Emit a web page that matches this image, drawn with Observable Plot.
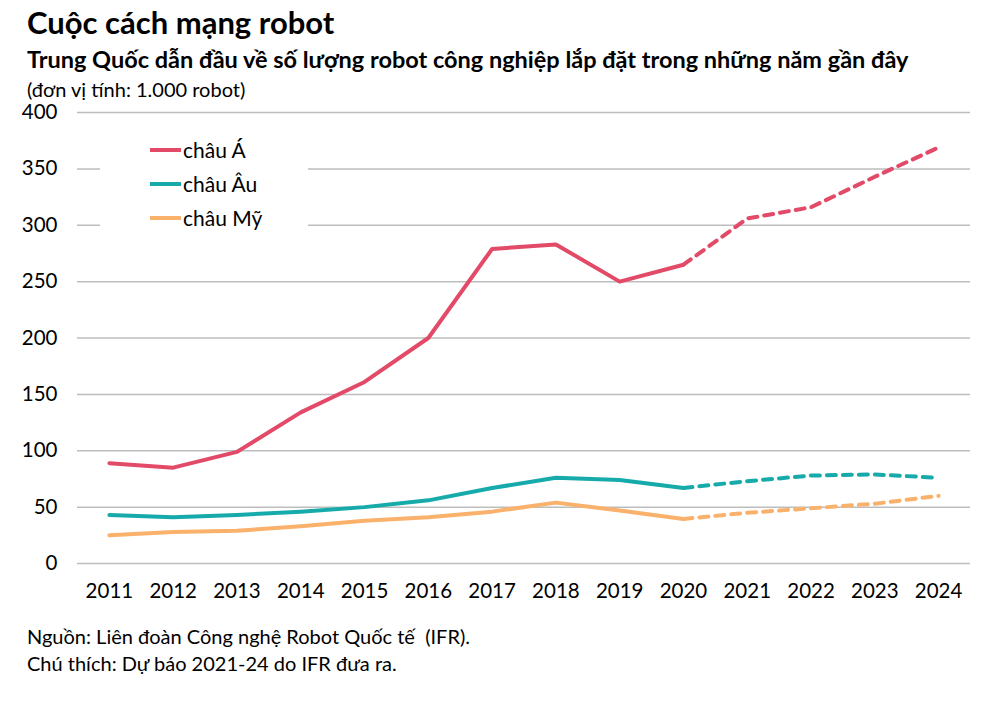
<!DOCTYPE html>
<html><head><meta charset="utf-8">
<script src="https://cdn.jsdelivr.net/npm/d3@7"></script>
<script src="https://cdn.jsdelivr.net/npm/@observablehq/plot@0.6"></script>
<style>
body{margin:0;background:#fff;font-family:Lato,"Open Sans",sans-serif;color:#000;}
#wrap{position:relative;width:997px;height:703px;}
.t{position:absolute;left:27px;white-space:nowrap;line-height:1;}
#title{top:7px;font-size:31px;font-weight:bold;}
#sub{top:48px;font-size:23.5px;font-weight:bold;}
#unit{top:79px;font-size:20px;}
#chart{position:absolute;left:0;top:88px;}
#legend{position:absolute;left:100px;top:137px;width:208px;height:95px;background:#fff;}
.li{position:absolute;left:50px;font-size:21px;line-height:1;display:flex;align-items:center;}
.li span.sw{display:inline-block;width:31px;height:4px;margin-right:2px;}
#src{top:626px;font-size:20px;}
#note{top:653px;font-size:20px;}
</style></head>
<body><div id="wrap">
<div class="t" id="title">Cuộc cách mạng robot</div>
<div class="t" id="sub">Trung Quốc dẫn đầu về số lượng robot công nghiệp lắp đặt trong những năm gần đây</div>
<div class="t" id="unit">(đơn vị tính: 1.000 robot)</div>
<div id="chart"></div>
<div id="legend"></div>
<div class="t" id="src">Nguồn: Liên đoàn Công nghệ Robot Quốc tế&nbsp; (IFR).</div>
<div class="t" id="note">Chú thích: Dự báo 2021-24 do IFR đưa ra.</div>
</div>
<script>
const years = [2011,2012,2013,2014,2015,2016,2017,2018,2019,2020,2021,2022,2023,2024];
const asia    = [89,85,99,134,161,200,279,283,250,265,306,316,343,369];
const europe  = [43,41,43,46,50,56,67,76,74,67,73,78,79,76];
const america = [25,28,29,33,38,41,46,54,47,39.5,45,49,53,60];
const seriesNames = ["châu Á","châu Âu","châu Mỹ"];
const seriesColors = ["#e24a68","#17aaaa","#f9b16c"];
const lastActual = 2020;
const yTicks = [0,50,100,150,200,250,300,350,400];

const rows = [];
[asia,europe,america].forEach((vals,i)=>{
  vals.forEach((v,j)=>rows.push({year:String(years[j]),y:years[j],value:v,series:seriesNames[i]}));
});
const solid = rows.filter(d=>d.y<=lastActual);
const dashed = rows.filter(d=>d.y>=lastActual);

const chart = Plot.plot({
  width:997,height:522,
  marginTop:24,marginBottom:47,marginLeft:77,marginRight:27,
  style:{fontFamily:'Lato,"Open Sans",sans-serif',fontSize:"20px",color:"#000",background:"transparent",overflow:"visible"},
  x:{type:"point",domain:years.map(String),padding:0.5,round:false,label:null},
  y:{domain:[0,400],label:null},
  color:{domain:seriesNames,range:seriesColors},
  marks:[
    Plot.ruleY(yTicks,{stroke:"#bdbdbd",strokeWidth:1.5}),
    Plot.axisY(yTicks,{tickSize:0,tickPadding:20,label:null,fontSize:20.5}),
    Plot.axisX({tickSize:0,tickPadding:20,label:null,fontSize:20.5}),
    Plot.line(solid,{x:"year",y:"value",z:"series",stroke:"series",strokeWidth:4,strokeLinejoin:"round"}),
    Plot.line(dashed,{x:"year",y:"value",z:"series",stroke:"series",strokeWidth:4,strokeDasharray:"9,7",strokeLinecap:"round"})
  ]
});
document.getElementById("chart").appendChild(chart);

const lg = document.getElementById("legend");
seriesNames.forEach((n,i)=>{
  const d=document.createElement("div");d.className="li";d.style.top=(i*34+2)+"px";
  d.innerHTML=`<span class="sw" style="background:${seriesColors[i]}"></span>${n}`;
  lg.appendChild(d);
});
</script>
</body></html>
